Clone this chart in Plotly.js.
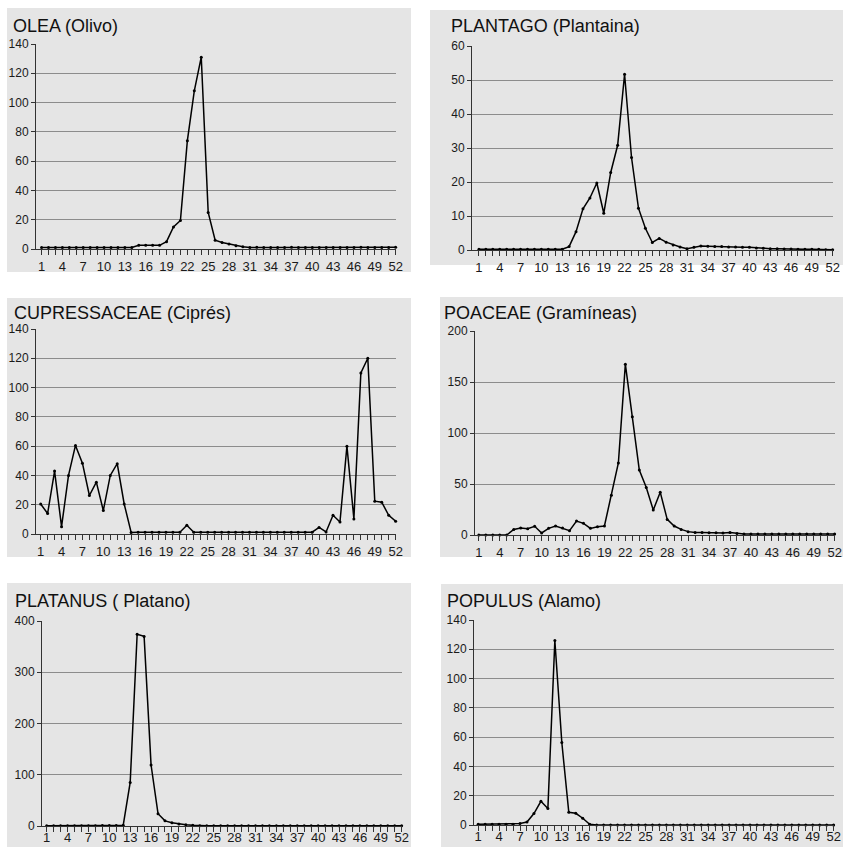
<!DOCTYPE html>
<html>
<head>
<meta charset="utf-8">
<script src="https://cdn.plot.ly/plotly-3.0.1.min.js"></script>
<style>
html,body{margin:0;padding:0;background:#fff;}
#chart{width:843px;height:847px;}
</style>
</head>
<body>
<div id="chart"></div>
<script>
// ---- data ----
const weeks = [1,2,3,4,5,6,7,8,9,10,11,12,13,14,15,16,17,18,19,20,21,22,23,24,25,26,
               27,28,29,30,31,32,33,34,35,36,37,38,39,40,41,42,43,44,45,46,47,48,49,50,51,52];
const tickLabels = ['1','','','4','','','7','','','10','','','13','','','16','','','19','','','22','','',
                    '25','','','28','','','31','','','34','','','37','','','40','','','43','','','46','','','49','','','52'];

const titles = ['OLEA (Olivo)', 'PLANTAGO (Plantaina)', 'CUPRESSACEAE (Ciprés)',
                'POACEAE (Gramíneas)', 'PLATANUS ( Platano)', 'POPULUS (Alamo)'];

const olea = [1,1,1,1,1,1,1,1,1,1,1,1,1,1,2.5,2.5,2.5,2.5,5,15,19.5,74,108,131,25,6,
              4.5,3.5,2.2,1.6,1,1.2,1,1,1,1,1.2,1,1,1,1,1,1,1,1,1,1.2,1,1,1,1,1.2];
const plantago = [0.2,0.2,0.2,0.2,0.2,0.2,0.2,0.2,0.2,0.2,0.2,0.2,0.2,1,5.4,12.1,15.3,19.7,10.8,22.8,30.8,51.7,27.2,12.3,6.4,2.2,
                  3.4,2.3,1.5,0.9,0.4,0.8,1.2,1.1,1,1,0.9,0.9,0.8,0.8,0.6,0.5,0.4,0.4,0.3,0.3,0.2,0.2,0.2,0.2,0.1,0.1];
const cupressaceae = [20.5,14,43,5,40,60.5,48.4,26.3,35.4,16,40,48,20.5,1.1,1.2,1.2,1.2,1.2,1.2,1.2,1.2,6,1.2,1.2,1.2,1.2,
                      1.2,1.2,1.2,1.2,1.2,1.2,1.2,1.2,1.2,1.2,1.2,1.2,1.2,1.2,4.5,1.4,12.8,8.2,60,10.3,110,120,22.4,21.7,12.8,8.7];
const poaceae = [0,0,0,0,0,5.5,6.8,6.2,8.5,2,6.5,8.8,6.8,4.2,13.7,11.4,6.5,8.1,8.8,39,70.6,167.5,116,63.7,46.5,24.5,
                 42,15.3,8.8,5.5,3.3,2.5,2.5,2.2,2.2,2,2.5,1.5,1,1,1,1,1,1,1,1,1,1,1,1,1,1];
const platanus = [0.5,0.5,0.5,0.5,0.5,0.5,0.5,0.5,1,1,1,1.5,85,374,370,119,24,10,6.5,4,2.6,1.3,0.5,0.5,0.5,0.5,
                  0.5,0.5,0.5,0.5,0.5,0.5,0.5,0.5,0.5,0.5,0.5,0.5,0.5,0.5,0.5,0.5,0.5,0.5,0.5,0.5,0.5,0.5,0.5,0.5,0.5,0.5];
const populus = [0.5,0.5,0.5,0.5,0.5,0.5,1,2,7.8,16.2,11.2,126,56.3,8.7,8,4.6,0.5,0,0,0,0,0,0,0,0,0,
                 0,0,0,0,0,0,0,0,0,0,0,0,0,0,0,0,0,0,0,0,0,0,0,0,0,0];

const yMax = [140, 60, 140, 200, 400, 140];
const yStep = [20, 10, 20, 50, 100, 20];
const series = [olea, plantago, cupressaceae, poaceae, platanus, populus];

// ---- layout geometry (pixels) ----
const W = 843, H = 847;
// plot area: [left, right, top, bottom]
const plotBox = [
  [36, 396, 44, 249],
  [472, 833, 46, 250],
  [36, 396, 329, 534],
  [475, 835, 331, 535],
  [42, 402, 621, 826],
  [474, 834, 620, 825]
];
const xStart = [0.2, 0.0, 0.33, 0.45, 0.33, 0.4];
const labelShift = [0, 0, 0, 0, -6, -6];
// grey panels: [x0, y0, x1, y1]
const panels = [
  [7, 8, 411, 272],
  [430, 10, 843, 265],
  [7, 298, 411, 557],
  [440, 297, 843, 557],
  [7, 583, 411, 847],
  [441, 584, 843, 847]
];
// title positions: [x, yTop]
const titlePos = [[11, 14], [449, 14], [12, 301], [442, 301], [13, 589], [445, 589]];

const FONT = 'Liberation Sans, Arial, sans-serif';
const traces = [];
const layout = {
  width: W, height: H,
  margin: {l: 0, r: 0, t: 0, b: 0},
  paper_bgcolor: '#ffffff',
  plot_bgcolor: 'rgba(0,0,0,0)',
  showlegend: false,
  font: {family: FONT, color: '#1a1a1a'},
  shapes: [],
  annotations: []
};

for (let i = 0; i < 6; i++) {
  const n = i === 0 ? '' : String(i + 1);
  traces.push({
    type: 'scatter', mode: 'lines+markers',
    x: weeks, y: series[i],
    xaxis: 'x' + n, yaxis: 'y' + n,
    line: {color: '#000000', width: 1.5},
    marker: {color: '#000000', size: 3, symbol: 'circle'},
    cliponaxis: false, hoverinfo: 'skip'
  });
  const b = plotBox[i];
  layout['xaxis' + n] = {
    domain: [b[0] / W, b[1] / W],
    anchor: 'y' + n,
    range: [xStart[i], 52.05],
    tickmode: 'array', tickvals: weeks, ticktext: tickLabels,
    ticks: 'outside', ticklen: 5, tickwidth: 1, tickcolor: '#333',
    ticklabelstandoff: labelShift[i],
    showline: true, linecolor: '#333', linewidth: 1,
    showgrid: false, zeroline: false,
    tickfont: {family: FONT, size: 13, color: '#1a1a1a'},
    tickangle: 0, fixedrange: true
  };
  layout['yaxis' + n] = {
    domain: [1 - b[3] / H, 1 - b[2] / H],
    anchor: 'x' + n,
    range: [0, yMax[i]],
    dtick: yStep[i], tick0: 0,
    ticks: 'outside', ticklen: 4, tickwidth: 1, tickcolor: '#333',
    showline: true, linecolor: '#333', linewidth: 1,
    showgrid: true, gridcolor: '#8c8c8c', gridwidth: 1,
    zeroline: false,
    tickfont: {family: FONT, size: 12, color: '#1a1a1a'},
    fixedrange: true
  };
  const p = panels[i];
  layout.shapes.push({
    type: 'rect', xref: 'paper', yref: 'paper', layer: 'below',
    x0: p[0] / W, x1: p[2] / W, y0: 1 - p[3] / H, y1: 1 - p[1] / H,
    fillcolor: '#e5e5e5', line: {width: 0}
  });
  layout.annotations.push({
    xref: 'paper', yref: 'paper',
    x: titlePos[i][0] / W, y: 1 - titlePos[i][1] / H,
    xanchor: 'left', yanchor: 'top',
    text: titles[i], showarrow: false,
    font: {family: FONT, size: 18, color: '#111111'}
  });
}

Plotly.newPlot('chart', traces, layout, {staticPlot: true, displayModeBar: false});
</script>
</body>
</html>
